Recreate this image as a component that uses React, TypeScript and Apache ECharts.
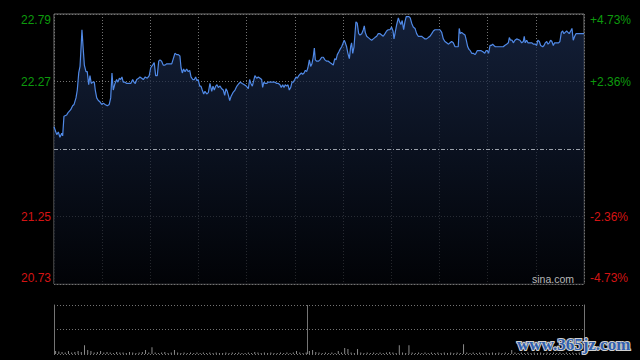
import React, { useEffect, useRef } from "react";
import * as echarts from "echarts";

const prevClose = 21.76;

// minutes since open (0..330) and prices
const minutes = [
  0, 1.7, 2.7, 3.7, 4.8, 5.4, 6.2, 7.9, 8.9, 10.4, 11.6, 12.5, 13.7, 14.5, 15.4, 16.2, 17.0, 17.4, 18.1, 18.9,
  19.9, 20.7, 21.6, 22.4, 23.2, 24.1, 25.1, 25.7, 26.6, 27.6, 28.6, 29.7, 30.7, 31.8, 33.2, 34.4, 35.3, 36.1, 36.9, 38.0,
  39.0, 39.8, 40.7, 41.5, 42.3, 43.1, 44.2, 45.3, 46.5, 47.8, 49.0, 49.8, 50.6, 51.5, 52.7, 53.5, 54.6, 55.6, 56.8, 58.1,
  59.3, 60.2, 61.4, 62.4, 63.3, 64.3, 65.2, 66.0, 67.0, 68.0, 69.1, 70.2, 72.2, 73.3, 74.3, 75.3, 76.4, 77.4, 78.4, 79.1,
  79.9, 80.7, 81.6, 82.6, 83.6, 84.5, 85.3, 86.4, 87.4, 88.2, 89.0, 89.8, 90.7, 91.5, 92.3, 93.2, 94.0, 95.1, 96.1, 97.1,
  98.2, 99.0, 99.8, 100.7, 101.5, 102.3, 103.4, 104.4, 105.4, 106.3, 107.1, 107.9, 108.8, 109.4, 110.2, 111.4, 112.7, 113.9, 115.2, 116.0,
  117.2, 118.5, 119.7, 121.0, 121.8, 122.6, 123.5, 124.3, 125.1, 126.2, 127.2, 128.3, 129.3, 129.9, 130.7, 131.6, 132.4, 133.4, 135.5, 136.6,
  137.6, 138.7, 139.7, 140.7, 141.5, 142.4, 143.2, 144.0, 144.9, 145.7, 146.5, 147.4, 148.2, 149.0, 149.9, 150.7, 151.5, 152.4, 153.2, 154.0,
  154.8, 155.7, 156.5, 157.3, 158.1, 159.0, 159.8, 160.6, 161.4, 162.1, 162.7, 163.6, 164.6, 165.6, 166.7, 167.7, 168.7, 169.8, 170.8, 171.8,
  172.9, 173.9, 174.8, 175.6, 176.4, 177.3, 178.1, 179.1, 180.1, 180.7, 181.4, 182.2, 183.0, 183.9, 184.7, 185.3, 186.0, 186.8, 187.6, 188.0,
  188.8, 189.7, 190.5, 191.6, 192.6, 193.2, 193.8, 194.7, 195.7, 196.7, 197.8, 198.8, 199.8, 200.9, 201.9, 203.0, 204.0, 205.0, 206.1, 207.1,
  208.1, 209.2, 210.2, 211.1, 211.7, 212.3, 213.4, 214.4, 215.2, 216.0, 216.8, 217.7, 218.5, 219.3, 221.0, 221.8, 222.7, 223.7, 224.8, 225.8,
  226.8, 228.9, 229.9, 231.0, 232.0, 233.0, 234.1, 235.2, 236.2, 237.2, 239.3, 240.3, 241.4, 242.4, 243.4, 244.5, 245.5, 246.6, 247.6, 248.6,
  249.7, 250.7, 251.7, 252.3, 253.0, 253.8, 254.8, 255.9, 256.7, 257.6, 258.4, 259.2, 260.1, 261.1, 262.1, 262.7, 263.5, 264.8, 266.0, 267.3,
  268.2, 269.0, 269.8, 270.6, 271.5, 272.3, 273.1, 273.9, 274.8, 278.5, 279.7, 280.6, 281.8, 282.9, 283.5, 284.3, 285.2, 286.0, 287.0, 288.1,
  290.1, 291.2, 292.2, 292.8, 293.4, 294.3, 295.1, 295.9, 296.8, 297.6, 298.4, 299.7, 300.5, 301.3, 302.2, 303.0, 304.3, 305.1, 305.9, 306.8,
  307.6, 308.4, 309.2, 310.0, 310.9, 311.7, 312.5, 314.2, 315.0, 315.9, 316.7, 317.5, 318.3, 319.2, 320.0, 320.8, 321.7, 322.5, 323.3, 324.2,
  325.0, 330.0,
];

const prices = [
  21.93, 21.87, 21.89, 21.85, 21.88, 21.86, 22.01, 22.02, 22.04, 22.06, 22.09, 22.10, 22.15, 22.21, 22.34, 22.39, 22.57, 22.67, 22.54, 22.40,
  22.35, 22.35, 22.25, 22.32, 22.26, 22.27, 22.27, 22.21, 22.15, 22.13, 22.12, 22.10, 22.11, 22.10, 22.09, 22.10, 22.15, 22.34, 22.21, 22.26,
  22.29, 22.27, 22.30, 22.29, 22.31, 22.27, 22.27, 22.26, 22.26, 22.26, 22.29, 22.27, 22.26, 22.29, 22.30, 22.31, 22.30, 22.29, 22.31, 22.30,
  22.32, 22.38, 22.40, 22.42, 22.32, 22.32, 22.43, 22.44, 22.43, 22.40, 22.40, 22.41, 22.41, 22.41, 22.45, 22.49, 22.48, 22.48, 22.47, 22.38,
  22.34, 22.37, 22.35, 22.37, 22.35, 22.36, 22.31, 22.29, 22.29, 22.31, 22.28, 22.29, 22.24, 22.24, 22.21, 22.18, 22.20, 22.18, 22.19, 22.26,
  22.20, 22.24, 22.21, 22.24, 22.25, 22.23, 22.24, 22.22, 22.21, 22.17, 22.22, 22.20, 22.16, 22.13, 22.16, 22.19, 22.21, 22.24, 22.26, 22.27,
  22.26, 22.25, 22.24, 22.22, 22.29, 22.26, 22.24, 22.28, 22.32, 22.30, 22.31, 22.30, 22.29, 22.23, 22.27, 22.26, 22.26, 22.27, 22.27, 22.27,
  22.27, 22.26, 22.26, 22.25, 22.23, 22.25, 22.23, 22.25, 22.24, 22.25, 22.21, 22.23, 22.27, 22.27, 22.29, 22.31, 22.30, 22.32, 22.33, 22.34,
  22.33, 22.34, 22.36, 22.35, 22.38, 22.44, 22.39, 22.41, 22.46, 22.53, 22.44, 22.43, 22.43, 22.44, 22.46, 22.46, 22.44, 22.43, 22.43, 22.42,
  22.41, 22.40, 22.45, 22.44, 22.48, 22.50, 22.52, 22.54, 22.57, 22.59, 22.57, 22.54, 22.49, 22.45, 22.54, 22.57, 22.49, 22.54, 22.67, 22.73,
  22.72, 22.64, 22.63, 22.64, 22.67, 22.70, 22.65, 22.62, 22.61, 22.60, 22.59, 22.60, 22.61, 22.62, 22.64, 22.64, 22.63, 22.62, 22.64, 22.66,
  22.67, 22.67, 22.69, 22.66, 22.60, 22.64, 22.71, 22.76, 22.73, 22.71, 22.74, 22.67, 22.73, 22.77, 22.77, 22.76, 22.72, 22.69, 22.68, 22.64,
  22.62, 22.62, 22.61, 22.60, 22.60, 22.61, 22.62, 22.64, 22.66, 22.67, 22.67, 22.67, 22.65, 22.60, 22.58, 22.57, 22.56, 22.57, 22.58, 22.57,
  22.54, 22.54, 22.54, 22.68, 22.64, 22.65, 22.64, 22.63, 22.59, 22.54, 22.52, 22.51, 22.49, 22.49, 22.48, 22.49, 22.51, 22.51, 22.51, 22.50,
  22.49, 22.51, 22.51, 22.49, 22.55, 22.55, 22.56, 22.55, 22.54, 22.54, 22.54, 22.55, 22.56, 22.57, 22.61, 22.59, 22.59, 22.57, 22.59, 22.60,
  22.59, 22.57, 22.58, 22.62, 22.57, 22.59, 22.57, 22.57, 22.57, 22.57, 22.56, 22.56, 22.55, 22.59, 22.58, 22.55, 22.54, 22.55, 22.57, 22.58,
  22.56, 22.57, 22.59, 22.58, 22.55, 22.57, 22.57, 22.57, 22.58, 22.65, 22.66, 22.64, 22.65, 22.66, 22.65, 22.64, 22.66, 22.68, 22.59, 22.62,
  22.64, 22.64,
];

// volume per 2-minute bin (arbitrary units, panel max 100)
const volumes = [
  6, 5, 4, 3, 6, 3, 4, 6, 4, 18, 8, 6, 3, 4, 6,
  3, 4, 3, 2, 4, 3, 3, 2, 4, 3, 2, 3, 4, 8, 3,
  14, 3, 2, 3, 4, 2, 3, 8, 3, 2, 3, 2, 3, 2, 3,
  2, 3, 2, 3, 2, 3, 2, 2, 3, 2, 3, 2, 3, 2, 2,
  3, 2, 4, 3, 2, 3, 2, 3, 2, 2, 3, 2, 3, 2, 3,
  6, 3, 2, 3, 6, 8, 4, 3, 2, 3, 2, 3, 2, 6, 3,
  12, 10, 3, 2, 10, 3, 2, 3, 2, 3, 2, 3, 2, 3, 4,
  3, 2, 18, 3, 2, 18, 3, 2, 3, 2, 3, 2, 3, 2, 3,
  2, 3, 2, 3, 2, 3, 2, 20, 3, 2, 3, 2, 3, 2, 3,
  2, 3, 2, 3, 2, 3, 2, 8, 3, 2, 3, 2, 3, 2, 3,
  2, 3, 2, 3, 2, 3, 2, 3, 2, 3, 2, 3, 2, 3, 4,
];

const leftTickLabels = ["20.73", "21.25", "", "22.27", "22.79"];
const rightTickLabels = ["-4.73%", "-2.36%", "", "+2.36%", "+4.73%"];
const lunchDividerMinute = 157.5;

const GREEN = "#0d9a0d";
const RED = "#d41414";
const GRIDC = "#737373";
const BORDER = "#747474";

const tickStyles = ["rb", "r", "", "g", "gt"];
const rich = {
  gt: { color: GREEN, fontSize: 12, padding: [12, 0, 0, 0] },
  g: { color: GREEN, fontSize: 12 },
  r: { color: RED, fontSize: 12 },
  rb: { color: RED, fontSize: 12, padding: [0, 0, 13, 0] },
};

function fmt(labels: string[]) {
  return (v: number) => {
    const i = Math.round(v / 51.5) + 2;
    const t = labels[i];
    if (!t) return "";
    return `{${tickStyles[i]}|${t}}`;
  };
}

export default function App() {
  const ref = useRef<HTMLDivElement>(null);
  useEffect(() => {
    const chart = echarts.init(ref.current!, null, { renderer: "svg" });
    const lineData = minutes.map((m, i) => [m, (prices[i] - prevClose) * 100]);
    const volData = volumes.map((v, i) => [i * 2 + 1, v]);
    chart.setOption({
      animation: false,
      backgroundColor: "#000",
      textStyle: { fontFamily: "'Liberation Sans', Arial, sans-serif" },
      grid: [
        { left: 54, top: 14, width: 530, height: 270, show: true, borderColor: BORDER, borderWidth: 1, backgroundColor: "transparent" },
        { left: 54, top: 305, width: 530, height: 49 },
      ],
      xAxis: [
        {
          type: "value", gridIndex: 0, min: 0, max: 330, interval: 30,
          axisLine: { show: false }, axisTick: { show: false }, axisLabel: { show: false },
          splitLine: { show: true, lineStyle: { color: GRIDC, type: [1, 2], width: 1 } },
        },
        {
          type: "value", gridIndex: 1, min: 0, max: 330, interval: 30,
          axisLine: { show: false }, axisTick: { show: false }, axisLabel: { show: false },
          splitLine: { show: false },
        },
      ],
      yAxis: [
        {
          type: "value", gridIndex: 0, min: -103, max: 103, interval: 51.5, position: "left",
          axisLine: { show: false, onZero: false }, axisTick: { show: false },
          splitLine: { show: true, lineStyle: { color: GRIDC, type: [1, 2], width: 1 } },
          axisLabel: { margin: 3, fontSize: 12, formatter: fmt(leftTickLabels), rich },
        },
        {
          type: "value", gridIndex: 0, min: -103, max: 103, interval: 51.5, position: "right",
          axisLine: { show: false, onZero: false }, axisTick: { show: false },
          splitLine: { show: false },
          axisLabel: { margin: 6, fontSize: 12, formatter: fmt(rightTickLabels), rich },
        },
        {
          type: "value", gridIndex: 1, min: 0, max: 100, interval: 50, position: "left",
          axisLine: { show: true, onZero: false, lineStyle: { color: BORDER, width: 1 } },
          axisTick: { show: false }, axisLabel: { show: false },
          splitLine: { show: true, lineStyle: { color: GRIDC, type: [1, 2], width: 1 } },
        },
        {
          type: "value", gridIndex: 1, min: 0, max: 100, interval: 50, position: "right",
          axisLine: { show: true, onZero: false, lineStyle: { color: BORDER, width: 1 } },
          axisTick: { show: false }, axisLabel: { show: false }, splitLine: { show: false },
        },
      ],
      series: [
        {
          type: "line",
          xAxisIndex: 0,
          yAxisIndex: 0,
          data: lineData,
          symbol: "none",
          lineStyle: { color: "#5089e6", width: 1.2 },
          areaStyle: {
            origin: "start",
            color: new echarts.graphic.LinearGradient(0, 0, 0, 1, [
              { offset: 0, color: "#1b2c4f" },
              { offset: 1, color: "#020409" },
            ]),
          },
          markLine: {
            silent: true,
            symbol: "none",
            label: { show: false },
            lineStyle: { color: "#9aa0aa", type: [4, 2, 1, 2], width: 1 },
            data: [{ yAxis: 0 }],
          },
          z: 3,
        },
        {
          type: "bar",
          xAxisIndex: 1,
          yAxisIndex: 2,
          data: volData,
          barWidth: 1,
          itemStyle: { color: "#8a8a8a" },
          markLine: {
            silent: true,
            symbol: "none",
            label: { show: false },
            lineStyle: { color: BORDER, type: "solid", width: 1 },
            data: [{ xAxis: lunchDividerMinute }],
          },
        },
      ],
      graphic: [
        {
          type: "text",
          left: 532,
          top: 273,
          z: 100,
          style: { text: "sina.com", fill: "#b8b8b8", font: "10.5px 'Liberation Sans', Arial, sans-serif" },
        },
        {
          type: "text",
          left: 516,
          top: 335,
          z: 100,
          style: {
            text: "www.365jz.com",
            fill: "#2f5fae",
            stroke: "#d0d0d0",
            lineWidth: 2,
            font: "bold 17px 'Liberation Serif', serif",
          },
        },
      ],
    });
    return () => chart.dispose();
  }, []);
  return (
    <div
      ref={ref}
      style={{ position: "fixed", left: 0, top: 0, width: 640, height: 360, background: "#000" }}
    />
  );
}
